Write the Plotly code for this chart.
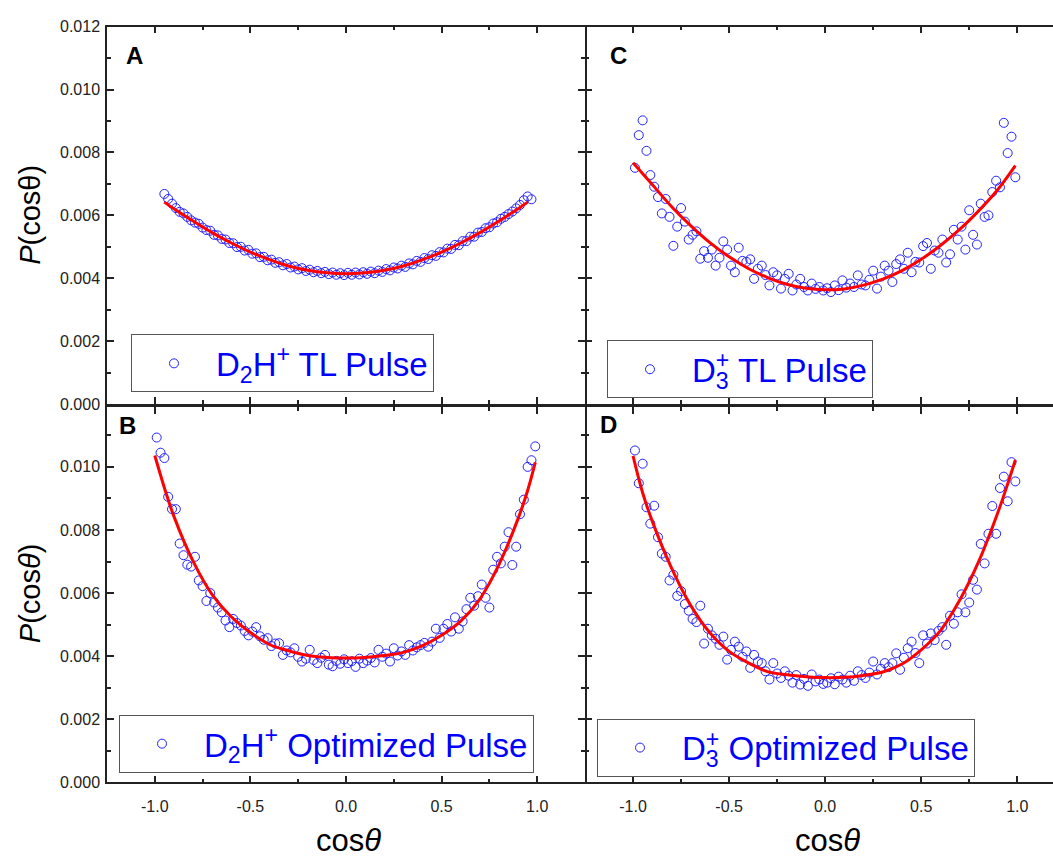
import plotly.graph_objects as go

# ---------------- data ----------------
X_GRID = [-0.99, -0.97, -0.95, -0.93, -0.91, -0.89, -0.87, -0.85, -0.83, -0.81,
          -0.79, -0.77, -0.75, -0.73, -0.71, -0.69, -0.67, -0.65, -0.63, -0.61,
          -0.59, -0.57, -0.55, -0.53, -0.51, -0.49, -0.47, -0.45, -0.43, -0.41,
          -0.39, -0.37, -0.35, -0.33, -0.31, -0.29, -0.27, -0.25, -0.23, -0.21,
          -0.19, -0.17, -0.15, -0.13, -0.11, -0.09, -0.07, -0.05, -0.03, -0.01,
          0.01, 0.03, 0.05, 0.07, 0.09, 0.11, 0.13, 0.15, 0.17, 0.19,
          0.21, 0.23, 0.25, 0.27, 0.29, 0.31, 0.33, 0.35, 0.37, 0.39,
          0.41, 0.43, 0.45, 0.47, 0.49, 0.51, 0.53, 0.55, 0.57, 0.59,
          0.61, 0.63, 0.65, 0.67, 0.69, 0.71, 0.73, 0.75, 0.77, 0.79,
          0.81, 0.83, 0.85, 0.87, 0.89, 0.91, 0.93, 0.95, 0.97, 0.99]

X_A = X_GRID[2:99]
P_A = [0.00668, 0.00652, 0.00637, 0.00623, 0.00611, 0.00606, 0.00595, 0.00584,
       0.00577, 0.00573, 0.00561, 0.00553, 0.00551, 0.00538, 0.00536, 0.00525, 0.00523, 0.00512,
       0.00511, 0.00499, 0.00500, 0.00488, 0.00490, 0.00478, 0.00479, 0.00467, 0.00468, 0.00457,
       0.00459, 0.00449, 0.00451, 0.00441, 0.00445, 0.00434, 0.00437, 0.00428, 0.00432, 0.00423,
       0.00427, 0.00419, 0.00423, 0.00416, 0.00420, 0.00413, 0.00418, 0.00411, 0.00416, 0.00410,
       0.00417, 0.00411, 0.00418, 0.00412, 0.00419, 0.00414, 0.00421, 0.00416, 0.00424, 0.00420,
       0.00429, 0.00425, 0.00434, 0.00431, 0.00440, 0.00436, 0.00447, 0.00444, 0.00455, 0.00452,
       0.00464, 0.00461, 0.00473, 0.00471, 0.00483, 0.00482, 0.00494, 0.00493, 0.00506, 0.00505,
       0.00518, 0.00518, 0.00532, 0.00532, 0.00545, 0.00547, 0.00559, 0.00562, 0.00574, 0.00578,
       0.00589, 0.00595, 0.00604, 0.00612, 0.00622, 0.00633, 0.00648, 0.00660, 0.00651]

P_B = [0.01093, 0.01045, 0.01028, 0.00905, 0.00866, 0.00866, 0.00757, 0.00720, 0.00690, 0.00684,
       0.00715, 0.00640, 0.00622, 0.00575, 0.00600, 0.00570, 0.00554, 0.00539, 0.00513, 0.00492,
       0.00518, 0.00505, 0.00497, 0.00480, 0.00466, 0.00478, 0.00492, 0.00463, 0.00452, 0.00457,
       0.00432, 0.00440, 0.00441, 0.00404, 0.00418, 0.00412, 0.00425, 0.00398, 0.00383, 0.00392,
       0.00420, 0.00388, 0.00378, 0.00395, 0.00404, 0.00373, 0.00368, 0.00385, 0.00376, 0.00390,
       0.00378, 0.00384, 0.00366, 0.00392, 0.00378, 0.00386, 0.00394, 0.00380, 0.00420, 0.00398,
       0.00408, 0.00383, 0.00425, 0.00402, 0.00415, 0.00404, 0.00435, 0.00418, 0.00428, 0.00435,
       0.00442, 0.00430, 0.00446, 0.00487, 0.00458, 0.00487, 0.00502, 0.00478, 0.00523, 0.00487,
       0.00510, 0.00549, 0.00585, 0.00560, 0.00590, 0.00627, 0.00585, 0.00554, 0.00674, 0.00715,
       0.00694, 0.00747, 0.00793, 0.00689, 0.00747, 0.00850, 0.00896, 0.01000, 0.01021, 0.01065]

P_C = [0.00751, 0.00855, 0.00902, 0.00805, 0.00728, 0.00691, 0.00658, 0.00606, 0.00652, 0.00595,
       0.00503, 0.00564, 0.00623, 0.00580, 0.00523, 0.00538, 0.00549, 0.00462, 0.00486, 0.00465,
       0.00491, 0.00440, 0.00465, 0.00517, 0.00491, 0.00440, 0.00419, 0.00497, 0.00455, 0.00452,
       0.00460, 0.00398, 0.00430, 0.00440, 0.00410, 0.00377, 0.00419, 0.00409, 0.00367, 0.00398,
       0.00414, 0.00361, 0.00380, 0.00398, 0.00372, 0.00361, 0.00383, 0.00366, 0.00372, 0.00361,
       0.00368, 0.00356, 0.00377, 0.00362, 0.00393, 0.00370, 0.00383, 0.00372, 0.00409, 0.00380,
       0.00377, 0.00395, 0.00424, 0.00367, 0.00405, 0.00440, 0.00424, 0.00388, 0.00445, 0.00460,
       0.00430, 0.00481, 0.00419, 0.00452, 0.00450, 0.00502, 0.00512, 0.00430, 0.00488, 0.00481,
       0.00523, 0.00450, 0.00476, 0.00554, 0.00523, 0.00564, 0.00491, 0.00616, 0.00538, 0.00507,
       0.00637, 0.00595, 0.00600, 0.00674, 0.00710, 0.00689, 0.00894, 0.00798, 0.00850, 0.00721]

P_D = [0.01052, 0.00948, 0.01010, 0.00872, 0.00820, 0.00877, 0.00777, 0.00725, 0.00715, 0.00640,
       0.00658, 0.00591, 0.00606, 0.00565, 0.00544, 0.00518, 0.00508, 0.00560, 0.00440, 0.00487,
       0.00466, 0.00455, 0.00436, 0.00462, 0.00389, 0.00420, 0.00446, 0.00430, 0.00398, 0.00415,
       0.00363, 0.00404, 0.00383, 0.00378, 0.00352, 0.00326, 0.00378, 0.00345, 0.00331, 0.00352,
       0.00338, 0.00316, 0.00340, 0.00310, 0.00328, 0.00306, 0.00342, 0.00320, 0.00326, 0.00312,
       0.00316, 0.00330, 0.00311, 0.00335, 0.00326, 0.00316, 0.00338, 0.00322, 0.00352, 0.00340,
       0.00331, 0.00348, 0.00383, 0.00342, 0.00360, 0.00378, 0.00365, 0.00378, 0.00409, 0.00357,
       0.00395, 0.00425, 0.00446, 0.00410, 0.00378, 0.00466, 0.00440, 0.00472, 0.00451, 0.00480,
       0.00492, 0.00436, 0.00528, 0.00503, 0.00539, 0.00596, 0.00539, 0.00570, 0.00642, 0.00611,
       0.00756, 0.00694, 0.00788, 0.00876, 0.00788, 0.00933, 0.00969, 0.00891, 0.01015, 0.00954]

# fitted curves
X_FIT_A = [-0.95, -0.9, -0.8, -0.7, -0.6, -0.5, -0.4, -0.3, -0.2, -0.1, 0.0,
           0.1, 0.2, 0.3, 0.4, 0.5, 0.6, 0.7, 0.8, 0.9, 0.95]
FIT_A = [0.00642, 0.00621, 0.00582, 0.00545, 0.00512, 0.00483, 0.00459, 0.00439, 0.00425, 0.00417, 0.00414,
         0.00417, 0.00425, 0.00439, 0.00459, 0.00483, 0.00512, 0.00545, 0.00582, 0.00621, 0.00642]

X_FIT_C = [-1.0, -0.9, -0.8, -0.7, -0.6, -0.5, -0.4, -0.3, -0.2, -0.1, 0.0,
           0.1, 0.2, 0.3, 0.4, 0.5, 0.6, 0.7, 0.8, 0.9, 0.99]
FIT_C = [0.00767, 0.00698, 0.00628, 0.00567, 0.00513, 0.00468, 0.00431, 0.00402, 0.00381, 0.00368, 0.00363,
         0.00366, 0.00378, 0.00397, 0.00424, 0.00460, 0.00504, 0.00555, 0.00615, 0.00683, 0.00758]

X_FIT_BD = [-1.0, -0.95, -0.9, -0.8, -0.7, -0.6, -0.5, -0.4, -0.3, -0.2, -0.1, 0.0,
            0.1, 0.2, 0.3, 0.4, 0.5, 0.6, 0.7, 0.8, 0.9, 0.95, 0.99]
FIT_B = [0.01036, 0.00934, 0.00843, 0.00701, 0.00595, 0.00525, 0.00475, 0.00437, 0.00417, 0.00402, 0.00396, 0.00394,
         0.00396, 0.00402, 0.00412, 0.00433, 0.00466, 0.00511, 0.00581, 0.00690, 0.00836, 0.00925, 0.01014]
FIT_D = [0.01035, 0.00918, 0.00828, 0.00680, 0.00561, 0.00474, 0.00415, 0.00379, 0.00351, 0.00341, 0.00335, 0.00332,
         0.00333, 0.00339, 0.00350, 0.00375, 0.00420, 0.00481, 0.00577, 0.00701, 0.00857, 0.00946, 0.01022]

X_TICKS = [-1.0, -0.5, 0.0, 0.5, 1.0]
X_TICKTEXT = ["-1.0", "-0.5", "0.0", "0.5", "1.0"]
Y_TICKS = [0.0, 0.002, 0.004, 0.006, 0.008, 0.010, 0.012]
Y_TICKTEXT = ["0.000", "0.002", "0.004", "0.006", "0.008", "0.010", "0.012"]

LEG_A = "D<sub>2</sub>H<sup>+</sup> TL Pulse"
LEG_B = "D<sub>2</sub>H<sup>+</sup> Optimized Pulse"
LEG_C = 'D<sub><span style="letter-spacing:-0.556em">3</span></sub><sup>+</sup> TL Pulse'
LEG_D = 'D<sub><span style="letter-spacing:-0.556em">3</span></sub><sup>+</sup> Optimized Pulse'

# ---------------- figure ----------------
W, H = 1053, 858
FONT = "Liberation Sans, Arial, sans-serif"
BLUE = "#2222ff"
RED = "#ff0000"
AX = "#222222"

fig = go.Figure()

panels = [
    ("x", "y", X_A, P_A, X_FIT_A, FIT_A, "legend", LEG_A),
    ("x3", "y3", X_GRID, P_B, X_FIT_BD, FIT_B, "legend2", LEG_B),
    ("x2", "y2", X_GRID, P_C, X_FIT_C, FIT_C, "legend3", LEG_C),
    ("x4", "y4", X_GRID, P_D, X_FIT_BD, FIT_D, "legend4", LEG_D),
]
for xa, ya, xs, ys, fx, fy, leg, name in panels:
    fig.add_trace(go.Scatter(
        x=xs, y=ys, mode="markers", name=name, xaxis=xa, yaxis=ya, legend=leg,
        marker=dict(symbol="circle-open", size=9, color=BLUE, line=dict(width=1)),
    ))
    fig.add_trace(go.Scatter(
        x=fx, y=fy, mode="lines", xaxis=xa, yaxis=ya, showlegend=False,
        line=dict(color=RED, width=3, shape="spline", smoothing=1),
    ))

def px_x(p):
    return p / W

def px_y(p):
    return 1 - p / H

XL = [px_x(107), px_x(585)]
XR = [px_x(585), 1.0]
YT = [px_y(404), px_y(19)]
YB = [px_y(790), px_y(407)]

common = dict(
    linecolor=AX, linewidth=1.5,
    ticks="inside", ticklen=7, tickwidth=1.5, tickcolor=AX,
    showgrid=False, zeroline=False,
    tickfont=dict(family=FONT, size=16, color=AX),
)

def xaxis(domain, anchor, rng, labels):
    return dict(common, showline=True, domain=domain, anchor=anchor, range=rng, mirror="ticks",
                tickmode="array", tickvals=X_TICKS, ticktext=X_TICKTEXT,
                showticklabels=labels, ticklabelstandoff=9,
                minor=dict(ticks="inside", ticklen=4, tickwidth=1.5, tickcolor=AX,
                           tickmode="linear", tick0=0.25, dtick=0.5, showgrid=False))

def yaxis(domain, anchor, rng, labels, mirror, line):
    return dict(common, showline=line, domain=domain, anchor=anchor, range=rng, mirror=mirror,
                tickmode="array", tickvals=Y_TICKS, ticktext=Y_TICKTEXT,
                showticklabels=labels, ticklabelstandoff=2,
                minor=dict(ticks="inside", ticklen=4, tickwidth=1.5, tickcolor=AX,
                           tickmode="linear", tick0=0.001, dtick=0.002, showgrid=False))

fig.update_layout(
    width=W, height=H, margin=dict(l=0, r=0, t=0, b=0),
    paper_bgcolor="white", plot_bgcolor="white",
    xaxis=xaxis(XL, "y", [-1.25, 1.25], False),
    yaxis=yaxis(YT, "x", [0, 0.012], True, "ticks", True),
    xaxis2=xaxis(XR, "y2", [-1.25, 1.186], False),
    yaxis2=yaxis(YT, "x2", [0, 0.012], False, False, False),
    xaxis3=xaxis(XL, "y3", [-1.25, 1.25], True),
    yaxis3=yaxis(YB, "x3", [0, 0.0119], True, "ticks", True),
    xaxis4=xaxis(XR, "y4", [-1.25, 1.186], True),
    yaxis4=yaxis(YB, "x4", [0, 0.0119], False, False, False),
)

def legend_box(x, y):
    return dict(x=x, y=y, xanchor="left", yanchor="top", xref="paper", yref="paper",
                bgcolor="rgba(255,255,255,0)", bordercolor="#555555", borderwidth=1,
                font=dict(family=FONT, size=33, color="#0000ff"),
                itemwidth=74, tracegroupgap=0)

fig.update_layout(
    legend=legend_box(px_x(131), px_y(333)),
    legend2=legend_box(px_x(119), px_y(721)),
    legend3=legend_box(px_x(607), px_y(339)),
    legend4=legend_box(px_x(597), px_y(725)),
)

annotations = []
for txt, cx, cy in [("A", 134, 48), ("B", 127, 426), ("C", 618, 48), ("D", 608, 425)]:
    annotations.append(dict(text="<b>%s</b>" % txt, x=px_x(cx), y=px_y(cy), xref="paper", yref="paper",
                            showarrow=False, xanchor="center", yanchor="middle",
                            font=dict(family=FONT, size=24, color="#000")))
annotations.append(dict(text="<i>P</i>(cosθ)", x=px_x(30), y=px_y(211), xref="paper", yref="paper",
                        showarrow=False, textangle=-90, xanchor="center", yanchor="middle",
                        font=dict(family=FONT, size=29, color="#000")))
annotations.append(dict(text="<i>P</i>(cos<i>θ</i>)", x=px_x(30), y=px_y(597), xref="paper", yref="paper",
                        showarrow=False, textangle=-90, xanchor="center", yanchor="middle",
                        font=dict(family=FONT, size=29, color="#000")))
for cx in (348, 827):
    annotations.append(dict(text="cos<i>θ</i>", x=px_x(cx), y=px_y(849), xref="paper", yref="paper",
                            showarrow=False, xanchor="center", yanchor="middle",
                            font=dict(family=FONT, size=31, color="#000")))
fig.update_layout(annotations=annotations)

fig.write_html("out.html")
